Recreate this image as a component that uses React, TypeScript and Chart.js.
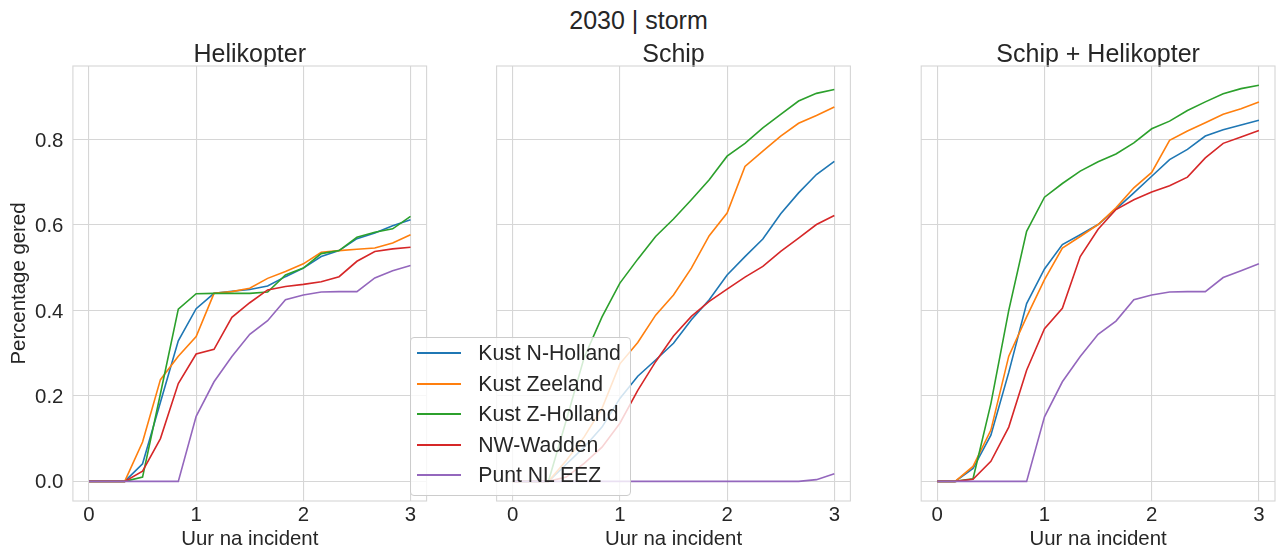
import React, { useEffect, useRef } from 'react';
import { Chart, registerables } from 'chart.js';

Chart.register(...registerables);

// ---------- data ----------
const suptitle = '2030 | storm';
const panelTitles = ['Helikopter', 'Schip', 'Schip + Helikopter'];
const regions = ['Kust N-Holland', 'Kust Zeeland', 'Kust Z-Holland', 'NW-Wadden', 'Punt NL EEZ'];
const xTitle = 'Uur na incident';
const yTitle = 'Percentage gered';
const xTicks = [0, 1, 2, 3];
const yTicks = [0, 0.2, 0.4, 0.6, 0.8];

const hours = [0, 0.1667, 0.3333, 0.5, 0.6667, 0.8333, 1, 1.1667, 1.3333, 1.5, 1.6667, 1.8333, 2, 2.1667, 2.3333, 2.5, 2.6667, 2.8333, 3];

// Helikopter
const heliNHolland = [0, 0, 0, 0.041, 0.185, 0.329, 0.404, 0.44, 0.445, 0.449, 0.457, 0.479, 0.499, 0.526, 0.54, 0.568, 0.581, 0.598, 0.612];
const heliZeeland = [0, 0, 0, 0.092, 0.238, 0.293, 0.339, 0.44, 0.444, 0.452, 0.475, 0.491, 0.509, 0.536, 0.54, 0.543, 0.546, 0.558, 0.577];
const heliZHolland = [0, 0, 0, 0.01, 0.205, 0.403, 0.439, 0.44, 0.44, 0.44, 0.443, 0.483, 0.499, 0.533, 0.54, 0.571, 0.583, 0.591, 0.62];
const heliWadden = [0, 0, 0, 0.024, 0.1, 0.229, 0.298, 0.309, 0.384, 0.418, 0.448, 0.456, 0.461, 0.467, 0.479, 0.515, 0.538, 0.544, 0.548];
const heliEEZ = [0, 0, 0, 0, 0, 0, 0.152, 0.233, 0.292, 0.344, 0.376, 0.425, 0.436, 0.443, 0.444, 0.444, 0.476, 0.493, 0.505];

// Schip
const shipNHolland = [0, 0, 0, 0.04, 0.08, 0.127, 0.194, 0.246, 0.284, 0.323, 0.378, 0.425, 0.483, 0.526, 0.567, 0.626, 0.675, 0.718, 0.749];
const shipZeeland = [0, 0, 0, 0.049, 0.104, 0.171, 0.275, 0.325, 0.389, 0.436, 0.499, 0.575, 0.628, 0.737, 0.773, 0.808, 0.838, 0.856, 0.876];
const shipZHolland = [0, 0, 0, 0.143, 0.29, 0.385, 0.464, 0.52, 0.573, 0.614, 0.659, 0.706, 0.761, 0.791, 0.827, 0.859, 0.89, 0.908, 0.917];
const shipWadden = [0, 0, 0, 0.01, 0.042, 0.08, 0.136, 0.213, 0.28, 0.34, 0.386, 0.421, 0.45, 0.478, 0.503, 0.538, 0.569, 0.601, 0.622];
const shipEEZ = [0, 0, 0, 0, 0, 0, 0, 0, 0, 0, 0, 0, 0, 0, 0, 0, 0, 0.004, 0.018];

// Schip + Helikopter
const bothNHolland = [0, 0, 0.03, 0.108, 0.255, 0.416, 0.497, 0.554, 0.577, 0.601, 0.637, 0.675, 0.714, 0.753, 0.777, 0.808, 0.823, 0.834, 0.845];
const bothZeeland = [0, 0, 0.035, 0.12, 0.293, 0.385, 0.472, 0.546, 0.573, 0.601, 0.64, 0.687, 0.723, 0.798, 0.82, 0.839, 0.859, 0.872, 0.888];
const bothZHolland = [0, 0, 0.006, 0.182, 0.4, 0.585, 0.665, 0.697, 0.726, 0.748, 0.766, 0.792, 0.825, 0.843, 0.868, 0.888, 0.907, 0.919, 0.927];
const bothWadden = [0, 0, 0.005, 0.047, 0.127, 0.26, 0.357, 0.405, 0.526, 0.59, 0.636, 0.659, 0.677, 0.692, 0.712, 0.757, 0.791, 0.806, 0.821];
const bothEEZ = [0, 0, 0, 0, 0, 0, 0.151, 0.233, 0.292, 0.344, 0.375, 0.425, 0.436, 0.443, 0.444, 0.444, 0.477, 0.493, 0.509];

const panelSeries = [
  [heliNHolland, heliZeeland, heliZHolland, heliWadden, heliEEZ],
  [shipNHolland, shipZeeland, shipZHolland, shipWadden, shipEEZ],
  [bothNHolland, bothZeeland, bothZHolland, bothWadden, bothEEZ],
];

// ---------- styles / layout ----------
const colors = ['#1f77b4', '#ff7f0e', '#2ca02c', '#d62728', '#9467bd'];
const FONT = '"Liberation Sans", Arial, sans-serif';
const TEXT = '#262626';
const GRID = '#d6d6d6';
const H = 556;
const X_MIN = -0.15;
const X_MAX = 3.15;
const Y_MIN = -0.046;
const Y_MAX = 0.972;

const layouts = [
  { left: 0, width: 430, padL: 0, padR: 3.4, showY: true },
  { left: 490, width: 366, padL: 6.6, padR: 5.6, showY: false },
  { left: 915, width: 362, padL: 6.2, padR: 2, showY: false },
];

const framePlugin = {
  id: 'frame',
  beforeDatasetsDraw(chart: any) {
    const { ctx, chartArea: a } = chart;
    ctx.save();
    ctx.strokeStyle = GRID;
    ctx.lineWidth = 1.1;
    ctx.strokeRect(a.left, a.top, a.right - a.left, a.bottom - a.top);
    ctx.restore();
  },
};

function makeConfig(k: number): any {
  const lay = layouts[k];
  const series = panelSeries[k];
  return {
    type: 'line',
    data: {
      datasets: regions.map((name, i) => ({
        label: name,
        data: hours.map((h, j) => ({ x: h, y: series[i][j] })),
        borderColor: colors[i],
        backgroundColor: colors[i],
        borderWidth: 1.6,
        pointRadius: 0,
        tension: 0,
        fill: false,
        order: regions.length - i,
      })),
    },
    plugins: [framePlugin],
    options: {
      animation: false,
      responsive: false,
      maintainAspectRatio: false,
      events: [],
      layout: { padding: { left: lay.padL, right: lay.padR, top: 0, bottom: 0 } },
      plugins: {
        legend: { display: false },
        tooltip: { enabled: false },
        title: {
          display: true,
          text: panelTitles[k],
          fullSize: false,
          color: TEXT,
          font: { family: FONT, size: 25, weight: 'normal', lineHeight: 0.9 },
          padding: { top: 43.5, bottom: 0 },
        },
      },
      scales: {
        x: {
          type: 'linear',
          min: X_MIN,
          max: X_MAX,
          afterBuildTicks: (s: any) => { s.ticks = xTicks.map((v) => ({ value: v })); },
          afterFit: (s: any) => { s.height = H - 501; },
          ticks: {
            color: TEXT,
            font: { family: FONT, size: 20.4 },
            padding: 2.6,
            maxRotation: 0,
            callback: (v: any) => String(v),
          },
          grid: { color: GRID, lineWidth: 1.1, drawTicks: false },
          border: { display: false },
          title: {
            display: true,
            text: xTitle,
            color: TEXT,
            font: { family: FONT, size: 20.4 },
            padding: { top: 0, bottom: 4 },
          },
        },
        y: {
          type: 'linear',
          min: Y_MIN,
          max: Y_MAX,
          afterBuildTicks: (s: any) => { s.ticks = yTicks.map((v) => ({ value: v })); },
          afterFit: (s: any) => { s.width = lay.showY ? 72.9 : 0; },
          ticks: {
            display: lay.showY,
            color: TEXT,
            font: { family: FONT, size: 20.4 },
            padding: 9.5,
            labelOffset: 1.5,
            callback: (v: any) => Number(v).toFixed(1),
          },
          grid: { color: GRID, lineWidth: 1.1, drawTicks: false },
          border: { display: false },
          title: {
            display: lay.showY,
            text: yTitle,
            color: TEXT,
            font: { family: FONT, size: 20.4 },
            padding: { top: 7, bottom: 0 },
          },
        },
      },
    },
  };
}

// legend geometry (figure px)
const LEG = { left: 410, top: 336.7, width: 220.7, height: 159, rowTop: 15.6, rowStep: 30.5, lineLeft: 6.3, lineWidth: 43.7, textLeft: 67.3 };

export default function App() {
  const r0 = useRef<HTMLCanvasElement>(null);
  const r1 = useRef<HTMLCanvasElement>(null);
  const r2 = useRef<HTMLCanvasElement>(null);
  const refs = [r0, r1, r2];

  useEffect(() => {
    const charts = refs.map((r, k) => new Chart(r.current as HTMLCanvasElement, makeConfig(k)));
    return () => charts.forEach((c) => c.destroy());
  }, []);

  return (
    <div style={{ position: 'fixed', left: 0, top: 0, width: 1277, height: H, background: '#fff', fontFamily: FONT, overflow: 'hidden' }}>
      <div style={{ position: 'absolute', left: 0, top: 8, width: 1277, textAlign: 'center', fontSize: 25, lineHeight: '25px', color: TEXT, whiteSpace: 'nowrap' }}>
        {suptitle}
      </div>
      {layouts.map((lay, k) => (
        <canvas
          key={k}
          ref={refs[k]}
          width={lay.width}
          height={H}
          style={{ position: 'absolute', left: lay.left, top: 0, width: lay.width, height: H }}
        />
      ))}
      <div
        style={{
          position: 'absolute',
          left: LEG.left,
          top: LEG.top,
          width: LEG.width,
          height: LEG.height,
          boxSizing: 'border-box',
          border: '1px solid #cccccc',
          borderRadius: 4,
          background: 'rgba(255,255,255,0.8)',
          zIndex: 2,
        }}
      >
        {regions.map((name, i) => {
          const c = LEG.rowTop + i * LEG.rowStep;
          return (
            <React.Fragment key={name}>
              <div style={{ position: 'absolute', left: LEG.lineLeft, top: c - 0.8, width: LEG.lineWidth, height: 1.6, background: colors[i] }} />
              <div style={{ position: 'absolute', left: LEG.textLeft, top: c - 15, height: 30, lineHeight: '30px', fontSize: 21.2, color: TEXT, whiteSpace: 'nowrap' }}>
                {name}
              </div>
            </React.Fragment>
          );
        })}
      </div>
    </div>
  );
}
